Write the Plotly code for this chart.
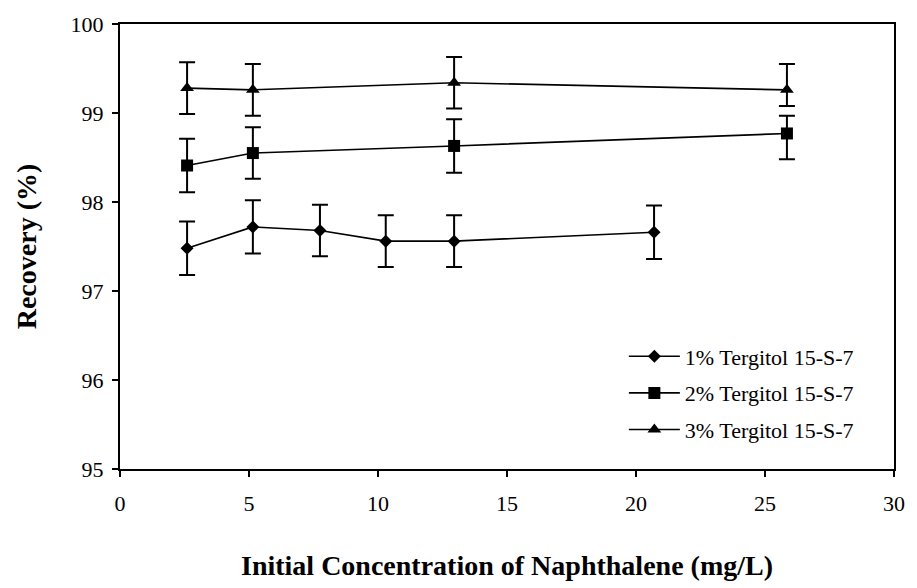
import plotly.graph_objects as go

# Initial naphthalene concentration (mg/L) and recovery (%) for each surfactant dose
x_1pct = [2.6, 5.15, 7.75, 10.3, 12.95, 20.7]
y_1pct = [97.48, 97.72, 97.68, 97.56, 97.56, 97.66]
err_1pct_plus = [0.30, 0.30, 0.29, 0.29, 0.29, 0.30]
err_1pct_minus = [0.30, 0.30, 0.29, 0.29, 0.29, 0.30]

x_2pct = [2.6, 5.15, 12.95, 25.85]
y_2pct = [98.41, 98.55, 98.63, 98.77]
err_2pct_plus = [0.30, 0.29, 0.30, 0.20]
err_2pct_minus = [0.30, 0.29, 0.30, 0.29]

x_3pct = [2.6, 5.15, 12.95, 25.85]
y_3pct = [99.28, 99.26, 99.34, 99.26]
err_3pct_plus = [0.29, 0.29, 0.29, 0.29]
err_3pct_minus = [0.29, 0.29, 0.29, 0.18]

series_names = ["1% Tergitol 15-S-7", "2% Tergitol 15-S-7", "3% Tergitol 15-S-7"]
x_ticks = [0, 5, 10, 15, 20, 25, 30]
y_ticks = [95, 96, 97, 98, 99, 100]

FONT = "Liberation Serif, Times New Roman, serif"

fig = go.Figure()

series = [
    (x_1pct, y_1pct, err_1pct_plus, err_1pct_minus, "diamond", 10),
    (x_2pct, y_2pct, err_2pct_plus, err_2pct_minus, "square", 12),
    (x_3pct, y_3pct, err_3pct_plus, err_3pct_minus, "triangle-up", 12),
]
for name, (xs, ys, ep, em, sym, sz) in zip(series_names, series):
    fig.add_trace(go.Scatter(
        x=xs, y=ys, name=name, mode="lines+markers",
        legendgroup=name,
        line=dict(color="black", width=1.6),
        marker=dict(symbol=sym, size=sz, color="black"),
        error_y=dict(type="data", symmetric=False, array=ep, arrayminus=em,
                     color="black", thickness=2, width=8),
    ))

axis_common = dict(
    showline=True, linecolor="black", linewidth=2, mirror=True,
    ticks="outside", ticklen=6, tickwidth=1.5, tickcolor="black",
    showgrid=False, zeroline=False,
    tickfont=dict(family=FONT, size=22, color="black"),
)

fig.update_xaxes(
    range=[0, 30], tickvals=x_ticks, ticktext=[str(v) for v in x_ticks],
    ticklabelstandoff=8,
    title=dict(text="<b>Initial Concentration of Naphthalene (mg/L)</b>",
               font=dict(family=FONT, size=28, color="black"), standoff=40),
    **axis_common,
)
fig.update_yaxes(
    range=[95, 100], tickvals=y_ticks, ticktext=[str(v) for v in y_ticks],
    ticklabelstandoff=4,
    title=dict(text="<b>Recovery (%)</b>",
               font=dict(family=FONT, size=28, color="black"), standoff=26),
    **axis_common,
)

fig.update_layout(
    width=917, height=588,
    margin=dict(l=120, r=14, t=20, b=118),
    paper_bgcolor="white", plot_bgcolor="white",
    font=dict(family=FONT, color="black"),
    legend=dict(
        x=0.651, y=0.30, xanchor="left", yanchor="top",
        font=dict(family=FONT, size=22, color="black"),
        bgcolor="rgba(0,0,0,0)", tracegroupgap=5, itemwidth=51,
    ),
)

fig.write_html("out.html")
